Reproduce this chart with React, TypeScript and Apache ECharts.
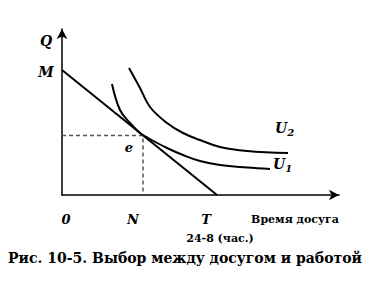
import React, { useEffect, useRef } from "react";
import * as echarts from "echarts";

// Budget line: M on the Q axis to T on the leisure axis
const budgetLine: [number, number][] = [
  [0, 12.5],
  [15.5, 0],
];
// Equilibrium point e
const eqPoint: [number, number] = [8.1, 5.95];
// Indifference curve U1 (tangent at e)
const curveU1: [number, number][] = [
  [5.0, 11.1], [5.8, 8.5], [6.8, 7.2], [7.8, 6.2], [8.6, 5.7], [10.5, 4.7],
  [12.1, 4.0], [13.8, 3.4], [15.8, 3.0], [18.5, 2.75], [20.8, 2.6],
];
// Indifference curve U2 (higher)
const curveU2: [number, number][] = [
  [6.7, 12.7], [7.8, 10.7], [8.8, 8.8], [10.5, 7.2], [12.1, 6.2], [13.8, 5.5],
  [15.8, 4.8], [18.5, 4.4], [22.6, 4.2],
];

const serif = "DejaVu Serif";

export default function App() {
  const ref = useRef<HTMLDivElement>(null);
  useEffect(() => {
    if (!ref.current) return;
    const chart = echarts.init(ref.current, undefined, { renderer: "svg" });
    const letter = (text: string, x: number, y: number, size = 14) => ({
      type: "text",
      x,
      y,
      style: {
        text,
        fontFamily: serif,
        fontStyle: "italic",
        fontWeight: "bold",
        fontSize: size,
        fill: "#000",
        align: "center",
        verticalAlign: "middle",
      },
    });
    const plain = (text: string, x: number, y: number, size: number) => ({
      type: "text",
      x,
      y,
      style: {
        text,
        fontFamily: serif,
        fontWeight: "bold",
        fontSize: size,
        fill: "#000",
        align: "center",
        verticalAlign: "middle",
      },
    });
    const subLabel = (main: string, sub: string, x: number, y: number) => ({
      type: "text",
      x,
      y,
      style: {
        text: `{m|${main}}{s|${sub}}`,
        align: "left",
        verticalAlign: "middle",
        rich: {
          m: { fontFamily: serif, fontStyle: "italic", fontWeight: "bold", fontSize: 14, fill: "#000" },
          s: { fontFamily: serif, fontStyle: "italic", fontWeight: "bold", fontSize: 10, fill: "#000", padding: [8, 0, 0, 0] },
        },
      },
    });
    chart.setOption({
      animation: false,
      backgroundColor: "#fff",
      grid: { left: 62, right: 33, top: 29, bottom: 95 },
      xAxis: {
        type: "value",
        min: 0,
        max: 27.7,
        axisLine: {
          lineStyle: { color: "#000", width: 1.5 },
          symbol: ["none", "arrow"],
          symbolSize: [8, 10],
          symbolOffset: [0, 0],
        },
        axisTick: { show: false },
        axisLabel: { show: false },
        splitLine: { show: false },
      },
      yAxis: {
        type: "value",
        min: 0,
        max: 16.6,
        axisLine: {
          lineStyle: { color: "#000", width: 1.5 },
          symbol: ["none", "arrow"],
          symbolSize: [8, 10],
          symbolOffset: [0, 0],
        },
        axisTick: { show: false },
        axisLabel: { show: false },
        splitLine: { show: false },
      },
      series: [
        {
          type: "line",
          data: [[0, eqPoint[1]], eqPoint, [eqPoint[0], 0]],
          showSymbol: false,
          lineStyle: { color: "#555", width: 1.5, type: [4, 3] },
          silent: true,
        },
        {
          type: "line",
          data: budgetLine,
          showSymbol: false,
          lineStyle: { color: "#000", width: 2 },
          silent: true,
        },
        {
          type: "line",
          data: curveU1,
          smooth: 0.4,
          showSymbol: false,
          lineStyle: { color: "#000", width: 2 },
          silent: true,
        },
        {
          type: "line",
          data: curveU2,
          smooth: 0.4,
          showSymbol: false,
          lineStyle: { color: "#000", width: 2 },
          silent: true,
        },
      ],
      graphic: [
        letter("Q", 46, 41, 14),
        letter("M", 46, 72, 14),
        letter("e", 129, 147, 13),
        subLabel("U", "2", 275, 128),
        subLabel("U", "1", 273, 164),
        letter("0", 66, 219, 13),
        letter("N", 133, 219, 13),
        letter("T", 206, 219, 13),
        plain("Время досуга", 295, 219, 11),
        plain("24-8 (час.)", 220, 238, 11),
        plain("Рис. 10-5. Выбор между досугом и работой", 185, 258, 14),
      ],
    });
    return () => chart.dispose();
  }, []);
  return (
    <div
      ref={ref}
      style={{ position: "fixed", left: 0, top: 0, width: 372, height: 290 }}
    />
  );
}
